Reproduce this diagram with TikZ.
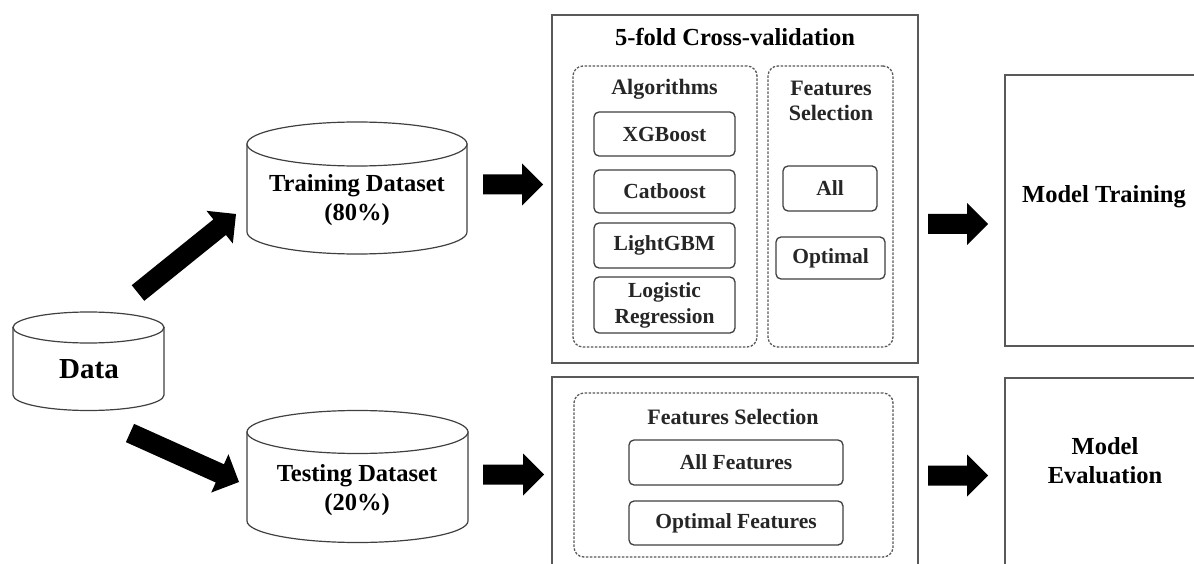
\documentclass[tikz,border=0pt]{standalone}
\usepackage{fontspec}
\setmainfont{Liberation Serif}
\usetikzlibrary{calc,fit}
\tikzset{
  outerbox/.style={draw=black!65, line width=1.5pt, inner sep=0pt},
  dbox/.style={draw=black!65, dash pattern=on 2.5pt off 1.5pt, line width=1.3pt, rounded corners=10pt, inner sep=0pt},
  ibox/.style={draw=black!75, line width=1.3pt, rounded corners=5pt, inner sep=0pt, align=center,
    font=\fontsize{21.5}{26}\selectfont\bfseries, text=black!85},
  midlbl/.style={align=center, font=\fontsize{22}{25}\selectfont\bfseries, text=black!85, inner sep=0pt},
  biglbl/.style={align=center, font=\fontsize{24.5}{29}\selectfont\bfseries, text=black, inner sep=0pt},
  cylline/.style={draw=black!75, line width=1.2pt, fill=white},
}
\newcommand\drawcyl[5]{%
  \path[cylline] ({#1-#4},#2) -- ({#1-#4},#3) arc[start angle=180, end angle=0, x radius=#4, y radius=#5] -- ({#1+#4},#2) -- cycle;
  \path[cylline] (#1,#2) ellipse[x radius=#4, y radius=#5];
}
\newcommand\blockarrow[2]{%
  \coordinate (#1-#2-h) at ($(#2)!21pt!(#1)$);
  \fill[black] ($(#1)!10pt!90:(#2)$) -- ($(#1-#2-h)!10pt!90:(#2)$) -- ($(#1-#2-h)!21pt!90:(#2)$) -- (#2)
    -- ($(#1-#2-h)!21pt!-90:(#2)$) -- ($(#1-#2-h)!10pt!-90:(#2)$) -- ($(#1)!10pt!-90:(#2)$) -- cycle;
}
\begin{document}
\begin{tikzpicture}[x=1pt,y=-1pt]
\useasboundingbox (0,0) rectangle (1194,564);
\clip (0,0) rectangle (1194,564);
\fill[white] (0,0) rectangle (1194,564);

% cylinders
\drawcyl{88.5}{327.5}{395}{75.5}{15.5}
\drawcyl{357}{144}{232}{110}{22}
\drawcyl{357.5}{432}{521}{110.5}{21.5}
\node[biglbl, font=\fontsize{29}{33}\selectfont\bfseries] (data) at (89,369) {Data};
\node[biglbl] (train) at (357,200) {Training Dataset\\(80\%)};
\node[biglbl] (test) at (357,490) {Testing Dataset\\(20\%)};

% cross-validation box
\node[outerbox, fit={(552,15)(918,363)}] (cv) {};
\node[biglbl] (cvtitle) at (735,37) {5-fold Cross-validation};
\node[dbox, fit={(573,66)(757,347)}] (alg) {};
\node[midlbl] (algt) at (664.5,89) {Algorithms};
\node[dbox, fit={(768,66)(893,347)}] (fs) {};
\node[midlbl] (fst) at (831,101) {Features\\Selection};
\node[ibox, minimum width=141pt, minimum height=44pt] (xgb) at (664.5,134) {XGBoost};
\node[ibox, minimum width=141pt, minimum height=43pt] (cat) at (664.5,191.5) {Catboost};
\node[ibox, minimum width=141pt, minimum height=45pt] (lgbm) at (664.5,245.5) {LightGBM};
\node[ibox, minimum width=141pt, minimum height=56pt] (lr) at (664.5,305) {Logistic\\Regression};
\node[ibox, minimum width=94pt, minimum height=45pt] (all) at (830,188.5) {All};
\node[ibox, minimum width=109pt, minimum height=42pt] (opt) at (830.5,258) {Optimal};

% testing features box
\node[outerbox, fit={(552,377)(918,620)}] (tb) {};
\node[dbox, fit={(574,393)(893,557)}] (fs2) {};
\node[midlbl] (fs2t) at (733,417) {Features Selection};
\node[ibox, minimum width=214pt, minimum height=45pt] (allf) at (736,462.5) {All Features};
\node[ibox, minimum width=214pt, minimum height=44pt] (optf) at (736,523) {Optimal Features};

% right boxes
\node[outerbox, fit={(1005,75)(1220,346)}] (mt) {};
\node[biglbl] (mtt) at (1104,197) {Model Training};
\node[outerbox, fit={(1005,378)(1220,620)}] (me) {};
\node[biglbl] (met) at (1105,461) {Model\\Evaluation};

% arrows
\coordinate (a1s) at (138,293);  \coordinate (a1e) at (236,214);
\coordinate (a2s) at (130,433);  \coordinate (a2e) at (239,482);
\coordinate (a3s) at (483,184.5); \coordinate (a3e) at (543,184.5);
\coordinate (a4s) at (483,474.5); \coordinate (a4e) at (544,474.5);
\coordinate (a5s) at (928,224);  \coordinate (a5e) at (988,224);
\coordinate (a6s) at (928,475.5); \coordinate (a6e) at (988,475.5);
\blockarrow{a1s}{a1e}
\blockarrow{a2s}{a2e}
\blockarrow{a3s}{a3e}
\blockarrow{a4s}{a4e}
\blockarrow{a5s}{a5e}
\blockarrow{a6s}{a6e}
\end{tikzpicture}
\end{document}
